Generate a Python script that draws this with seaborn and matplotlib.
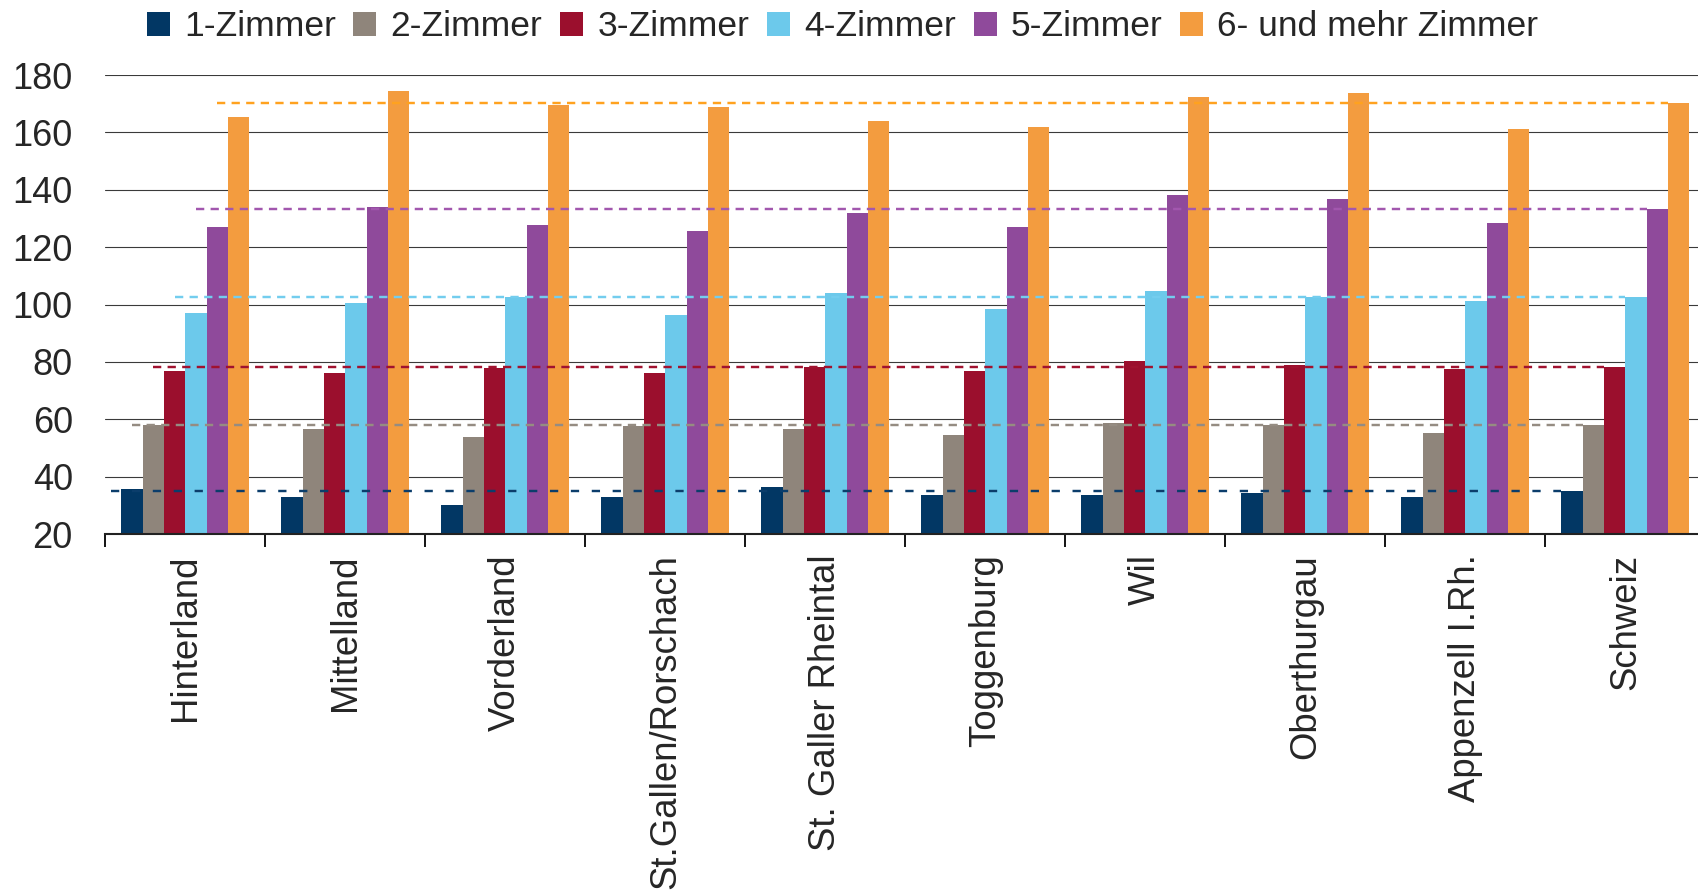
import numpy as np
import pandas as pd
import matplotlib
matplotlib.use("Agg")
import matplotlib.pyplot as plt
from matplotlib.patches import Patch
from matplotlib.ticker import FixedLocator
import seaborn as sns

# Mittlere Wohnungsfläche (m²) nach Zimmerzahl und Region
regions = ["Hinterland", "Mittelland", "Vorderland", "St.Gallen/Rorschach",
           "St. Galler Rheintal", "Toggenburg", "Wil", "Oberthurgau",
           "Appenzell I.Rh.", "Schweiz"]
room_labels = ["1-Zimmer", "2-Zimmer", "3-Zimmer", "4-Zimmer", "5-Zimmer",
               "6- und mehr Zimmer"]

z1 = [35.7, 32.9, 30.1, 32.9, 36.4, 33.6, 33.6, 34.3, 32.9, 35.0]
z2 = [58.0, 56.6, 53.8, 57.5, 56.6, 54.5, 58.7, 58.0, 55.2, 58.0]
z3 = [76.9, 76.1, 77.7, 76.1, 78.2, 76.8, 80.3, 78.9, 77.5, 78.2]
z4 = [97.0, 100.5, 102.6, 96.3, 104.0, 98.4, 104.7, 102.6, 101.2, 102.6]
z5 = [127.0, 133.9, 127.7, 125.6, 131.8, 127.0, 138.1, 136.7, 128.4, 133.2]
z6 = [165.3, 174.4, 169.7, 168.8, 163.9, 161.8, 172.3, 173.7, 161.1, 170.2]
series = [z1, z2, z3, z4, z5, z6]

bar_colors = ["#023764", "#8F857B", "#9B0F2D", "#6CC9EB", "#8F4A9B", "#F39C3F"]
ref_colors = ["#0B3D6B", "#958C82", "#A0122F", "#73CDEE", "#A257AE", "#FFA21F"]

rows = [(r, lab, v) for lab, vals in zip(room_labels, series)
        for r, v in zip(regions, vals)]
df = pd.DataFrame(rows, columns=["Region", "Zimmer", "Wert"])

sns.set_style("white")
plt.rcParams["font.family"] = ["Liberation Sans", "DejaVu Sans"]

W, H = 1698, 896
fig = plt.figure(figsize=(W / 100, H / 100), dpi=100)
ax = fig.add_axes([105.4 / W, 362 / H, 1600 / W, 459 / H])

sns.barplot(data=df, x="Region", y="Wert", hue="Zimmer", order=regions,
            hue_order=room_labels, palette=bar_colors, saturation=1,
            width=0.8, linewidth=0, legend=False, ax=ax)

# Schweizer Referenzwerte als gestrichelte Linien über den Balken
for j, cont in enumerate(ax.containers):
    first, last = cont.patches[0], cont.patches[-1]
    x0 = first.get_x() - first.get_width() / 2
    x1 = last.get_x()
    dash = (0, (3.4, 5.2)) if j == 0 else (0, (3.4, 2.6))
    ax.hlines(series[j][-1], x0, x1, colors=ref_colors[j], lw=1.75,
              linestyles=[dash], zorder=4)

ax.set_ylim(20, 180)
ax.set_yticks(np.arange(20, 181, 20))
ax.yaxis.grid(True, color="#3a3a3a", lw=0.8)
ax.xaxis.grid(False)
ax.set_axisbelow(True)
ax.set_xlabel("")
ax.set_ylabel("")

for s in ["left", "top", "right"]:
    ax.spines[s].set_visible(False)
ax.spines["bottom"].set_color("#222222")
ax.spines["bottom"].set_linewidth(1.5)

ax.set_xticks(range(len(regions)))
ax.set_xticklabels(regions, rotation=90)
ax.xaxis.set_minor_locator(FixedLocator(np.arange(-0.5, len(regions), 1.0)))
ax.tick_params(axis="x", which="major", length=0, pad=14.5, labelsize=26.3,
               bottom=True)
ax.tick_params(axis="x", which="minor", length=9.4, width=1.3, color="black",
               direction="out", bottom=True)
ax.tick_params(axis="y", length=0, pad=23.5, labelsize=26, left=False)
ax.set_xlim(-0.5, len(regions) - 0.5)

handles = [Patch(facecolor=c, edgecolor="none", label=l)
           for c, l in zip(bar_colors, room_labels)]
fig.legend(handles=handles, loc="center", bbox_to_anchor=(842.5 / W, 1 - 27 / H),
           ncol=6, frameon=False, fontsize=25.5, handlelength=0.65,
           handleheight=0.68, handletextpad=0.4, columnspacing=0.5,
           borderpad=0, borderaxespad=0)

fig.savefig("out.png", dpi=100)
